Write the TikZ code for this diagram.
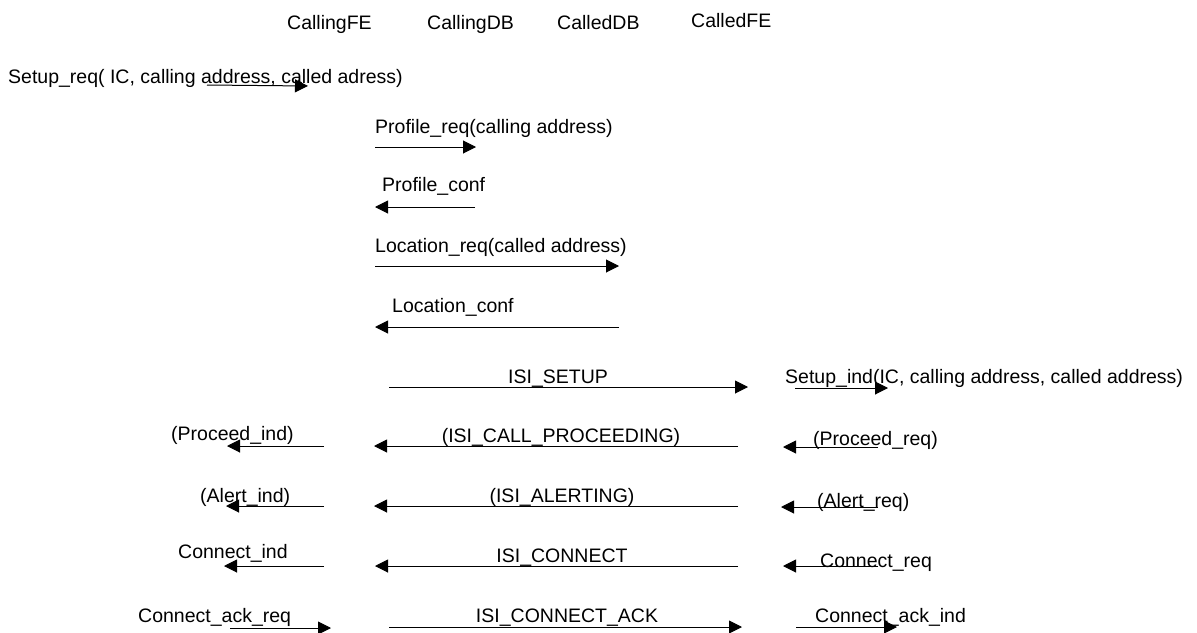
\documentclass[tikz,border=0pt]{standalone}
\usepackage{fontspec}
\setmainfont{Liberation Sans}
\usetikzlibrary{arrows.meta}
\begin{document}
\begin{tikzpicture}[x=1pt,y=-1pt,
  lbl/.style={anchor=base west,inner sep=0pt,font=\fontsize{19.5}{23}\selectfont},
  clbl/.style={anchor=base,inner sep=0pt,font=\fontsize{19.5}{23}\selectfont},
  msg/.style={line width=1pt,-{Triangle[length=13pt,width=13pt]}}]
\useasboundingbox[fill=white] (0,0) rectangle (1197,632);

% entity headers
\node[lbl] (hcfe) at (287,29) {CallingFE};
\node[lbl] (hcdb) at (427,29) {CallingDB};
\node[lbl] (hddb) at (557,29) {CalledDB};
\node[lbl] (hdfe) at (691,27) {CalledFE};

% setup request from the user
\node[lbl] (setupreq) at (8,83) {Setup\_req( IC, calling address, called adress)};
\coordinate (sr1) at (207,85); \coordinate (sr2) at (308,86);
\draw[msg] (sr1) -- (sr2);

% profile query
\node[lbl] (profreq) at (375,133) {Profile\_req(calling address)};
\coordinate (pr1) at (375,147); \coordinate (pr2) at (476,147);
\draw[msg] (pr1) -- (pr2);
\node[lbl] (profconf) at (382,191) {Profile\_conf};
\coordinate (pc1) at (475,207); \coordinate (pc2) at (375,207);
\draw[msg] (pc1) -- (pc2);

% location query
\node[lbl] (locreq) at (375,252) {Location\_req(called address)};
\coordinate (lr1) at (375,266); \coordinate (lr2) at (619,266);
\draw[msg] (lr1) -- (lr2);
\node[lbl] (locconf) at (392,312) {Location\_conf};
\coordinate (lc1) at (619,327); \coordinate (lc2) at (375,327);
\draw[msg] (lc1) -- (lc2);

% call setup
\node[clbl] (isisetup) at (558,383) {ISI\_SETUP};
\coordinate (is1) at (389,387); \coordinate (is2) at (748,387);
\draw[msg] (is1) -- (is2);
\node[lbl] (setupind) at (785,383) {Setup\_ind(IC, calling address, called address)};
\coordinate (si1) at (795,388); \coordinate (si2) at (888,388);
\draw[msg] (si1) -- (si2);

% proceeding
\node[clbl] (isiproc) at (561,442) {(ISI\_CALL\_PROCEEDING)};
\coordinate (ip1) at (738,446); \coordinate (ip2) at (374,446);
\draw[msg] (ip1) -- (ip2);
\node[lbl] (procind) at (171,440) {(Proceed\_ind)};
\coordinate (pi1) at (324,446); \coordinate (pi2) at (227,446);
\draw[msg] (pi1) -- (pi2);
\node[lbl] (procreq) at (813,445) {(Proceed\_req)};
\coordinate (pq1) at (878,447); \coordinate (pq2) at (783,447);
\draw[msg] (pq1) -- (pq2);

% alerting
\node[clbl] (isialert) at (562,502) {(ISI\_ALERTING)};
\coordinate (ia1) at (738,506); \coordinate (ia2) at (374,506);
\draw[msg] (ia1) -- (ia2);
\node[lbl] (alertind) at (200,502) {(Alert\_ind)};
\coordinate (ai1) at (324,506); \coordinate (ai2) at (226,506);
\draw[msg] (ai1) -- (ai2);
\node[lbl] (alertreq) at (817,507) {(Alert\_req)};
\coordinate (aq1) at (878,507); \coordinate (aq2) at (781,507);
\draw[msg] (aq1) -- (aq2);

% connect
\node[clbl] (isiconn) at (562,562) {ISI\_CONNECT};
\coordinate (ic1) at (738,566); \coordinate (ic2) at (375,566);
\draw[msg] (ic1) -- (ic2);
\node[lbl] (connind) at (178,558) {Connect\_ind};
\coordinate (ci1) at (324,566); \coordinate (ci2) at (224,566);
\draw[msg] (ci1) -- (ci2);
\node[lbl] (connreq) at (820,567) {Connect\_req};
\coordinate (cq1) at (878,566); \coordinate (cq2) at (783,566);
\draw[msg] (cq1) -- (cq2);

% connect acknowledge
\node[clbl] (isiack) at (567,622) {ISI\_CONNECT\_ACK};
\coordinate (ik1) at (389,627); \coordinate (ik2) at (742,627);
\draw[msg] (ik1) -- (ik2);
\node[lbl] (ackreq) at (138,622) {Connect\_ack\_req};
\coordinate (kq1) at (230,628); \coordinate (kq2) at (331,628);
\draw[msg] (kq1) -- (kq2);
\node[lbl] (ackind) at (815,622) {Connect\_ack\_ind};
\coordinate (ki1) at (796,627); \coordinate (ki2) at (897,627);
\draw[msg] (ki1) -- (ki2);
\end{tikzpicture}
\end{document}
